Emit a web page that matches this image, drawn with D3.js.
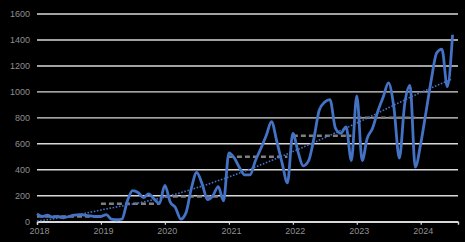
<!DOCTYPE html>
<html>
<head>
<meta charset="utf-8">
<script src="https://cdn.jsdelivr.net/npm/d3@7"></script>
<style>
  html, body { margin: 0; padding: 0; background: #000; }
  svg { display: block; }
  .tick text { font-family: "Liberation Sans", Arial, sans-serif; font-size: 9px; fill: #8f8f8f; }
</style>
</head>
<body>
<div id="chart"></div>
<script>
// monthly values, Jan 2018 .. Jul 2024
var startMonth = new Date(2018, 0, 1)
var monthly = [
  60, 40, 50, 35, 40, 30, 40, 50, 55, 50, 45, 40,            // 2018
  40, 55, 20, 15, 20, 160, 240, 225, 185, 215, 175, 140,     // 2019
  280, 150, 110, 20, 70, 260, 380, 290, 170, 200, 270, 160,  // 2020
  530, 490, 420, 360, 360, 470, 560, 660, 770, 620, 450, 300, // 2021
  680, 530, 430, 470, 640, 860, 920, 940, 720, 680, 730, 470, // 2022
  970, 470, 640, 720, 850, 960, 1070, 880, 490, 900, 1050, 420, // 2023
  600, 850, 1090, 1300, 1330, 1040, 1440                     // 2024
]

// yearly averages (grey dashed steps)
var avgYears = [2018, 2019, 2020, 2021, 2022, 2023]
var avgValues = [40, 138, 195, 500, 662, 800]

// trend line (month index, value)
var trendMonths = [0, 6, 12, 24, 36, 48, 60, 72, 78]
var trendValues = [5, 40, 90, 190, 345, 540, 760, 995, 1100]

var yTicks = [0, 200, 400, 600, 800, 1000, 1200, 1400, 1600]
var xTickYears = [2018, 2019, 2020, 2021, 2022, 2023, 2024]

var config = {
  width: 465,
  height: 242,
  margin: { left: 37, right: 7, top: 14, bottom: 20 }
}

var monthDate = function(i){ return new Date(2018, i, 1) }

var svg = d3.select("#chart")
  .append("svg")
    .attr("width", config.width)
    .attr("height", config.height)

var x = d3.scaleTime()
  .domain([startMonth, new Date(2024, 7, 1)])
  .range([config.margin.left, config.width - config.margin.right])

var y = d3.scaleLinear()
  .domain([0, 1600])
  .range([config.height - config.margin.bottom - 0.3, config.margin.top])

// grid lines
svg.append("g")
    .attr("class", "grid")
  .selectAll("line")
    .data(yTicks)
  .enter().append("line")
    .attr("x1", x.range()[0])
    .attr("x2", x.range()[1])
    .attr("y1", function(d){ return y(d) })
    .attr("y2", function(d){ return y(d) })
    .attr("stroke", "#d9d9d9")
    .attr("stroke-width", 1.4)

// y axis labels
var yAxis = svg.append("g")
    .attr("transform", "translate(" + (config.margin.left - 1) + ",0)")
    .call(d3.axisLeft(y).tickValues(yTicks).tickFormat(d3.format("d")).tickSize(0).tickPadding(6))
yAxis.select(".domain").remove()

// x axis
var xAxis = svg.append("g")
    .attr("transform", "translate(0," + y(0) + ")")
    .call(d3.axisBottom(x)
      .tickValues(xTickYears.map(function(yr){ return new Date(yr, 0, 1) }))
      .tickFormat(d3.timeFormat("%Y"))
      .tickSize(3)
      .tickPadding(3))
xAxis.select(".domain").attr("stroke", "#d9d9d9").attr("stroke-width", 1.4)
xAxis.selectAll(".tick line").attr("stroke", "#d9d9d9").attr("stroke-width", 1.2)
xAxis.selectAll(".tick text").attr("dx", 2)

// yearly average steps
var avgLine = d3.line()
  .x(function(d){ return x(d.date) })
  .y(function(d){ return y(d.value) })

avgYears.forEach(function(yr, i){
  svg.append("path")
      .datum([
        { date: new Date(yr, 0, 1), value: avgValues[i] },
        { date: new Date(yr, 11, 1), value: avgValues[i] }
      ])
      .attr("fill", "none")
      .attr("stroke", "#7f7f7f")
      .attr("stroke-width", 2.5)
      .attr("stroke-dasharray", "5,3")
      .attr("d", avgLine)
})

// monthly series
var series = monthly.map(function(v, i){ return { date: monthDate(i), value: v } })

svg.append("path")
    .datum(series)
    .attr("fill", "none")
    .attr("stroke", "#4472c4")
    .attr("stroke-width", 2.8)
    .attr("stroke-linejoin", "round")
    .attr("d", d3.line()
      .curve(d3.curveMonotoneX)
      .x(function(d){ return x(d.date) })
      .y(function(d){ return y(d.value) }))

// trend line (dotted)
var trend = trendMonths.map(function(m, i){ return { date: monthDate(m), value: trendValues[i] } })

svg.append("path")
    .datum(trend)
    .attr("fill", "none")
    .attr("stroke", "#4472c4")
    .attr("stroke-width", 1.6)
    .attr("stroke-dasharray", "1.6,1.6")
    .attr("d", d3.line()
      .curve(d3.curveMonotoneX)
      .x(function(d){ return x(d.date) })
      .y(function(d){ return y(d.value) }))
</script>
</body>
</html>
